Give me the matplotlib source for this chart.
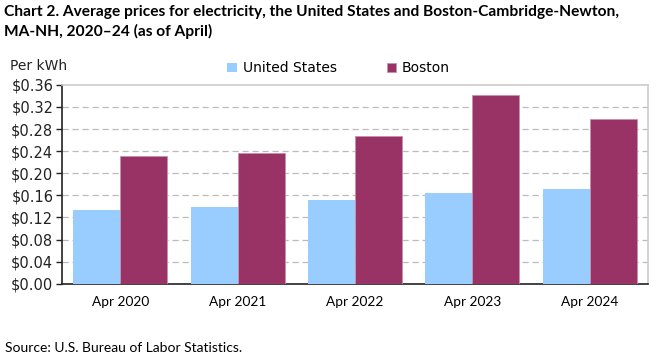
import matplotlib.pyplot as plt
import numpy as np

categories = ["Apr 2020", "Apr 2021", "Apr 2022", "Apr 2023", "Apr 2024"]
us_prices = [0.134, 0.138, 0.152, 0.165, 0.172]
boston_prices = [0.231, 0.237, 0.268, 0.341, 0.298]
y_ticks = [0.00, 0.04, 0.08, 0.12, 0.16, 0.20, 0.24, 0.28, 0.32, 0.36]

us_color = "#99CCFF"
boston_color = "#993366"

fig = plt.figure(figsize=(6.61, 3.61), dpi=100)
ax = fig.add_axes([0.0933, 0.214, 0.8877, 0.551])

x = np.arange(len(categories))
w = 0.4
ax.bar(x - w / 2, us_prices, w, color=us_color, label="United States", zorder=3)
ax.bar(x + w / 2, boston_prices, w, color=boston_color, label="Boston",
       edgecolor="#c890aa", linewidth=0.6, zorder=3)

ax.set_xlim(-0.5, len(categories) - 0.5)
ax.set_ylim(0, 0.36)
ax.set_yticks(y_ticks)
ax.set_yticklabels([f"${v:.2f}" for v in y_ticks], fontsize=10.5, color="#222222")
ax.set_xticks(x)
ax.set_xticklabels(categories, fontfamily="Lato", fontsize=9.8)
ax.tick_params(axis="x", length=0, pad=9)
ax.tick_params(axis="y", length=4, width=1, direction="out", color="#222222", pad=2)

for v in y_ticks[1:-1]:
    ax.axhline(v, color="#bbbbbb", linestyle=(0, (5, 3)), linewidth=0.9, zorder=1)

ax.spines["left"].set_color("#222222")
ax.spines["left"].set_linewidth(1.2)
ax.spines["bottom"].set_color("#222222")
ax.spines["bottom"].set_linewidth(1.2)
ax.spines["top"].set_color("#cccccc")
ax.spines["top"].set_linewidth(1.2)
ax.spines["right"].set_color("#cccccc")
ax.spines["right"].set_linewidth(1.2)

ax.legend(loc="lower center", bbox_to_anchor=(0.472, 1.02), ncol=2, frameon=False,
          fontsize=10, handlelength=0.7, handleheight=0.7, columnspacing=3.6,
          handletextpad=0.4, borderaxespad=0)

fig.text(0.015, 0.805, "Per kWh", fontsize=10, color="#222222")
fig.text(0.006, 0.985,
         "Chart 2. Average prices for electricity, the United States and Boston-Cambridge-Newton,\nMA-NH, 2020\u201324 (as of April)",
         fontfamily="Lato", fontweight="bold", fontsize=11.2, va="top", linespacing=1.4)
fig.text(0.008, 0.025, "Source: U.S. Bureau of Labor Statistics.", fontfamily="Lato", fontsize=10)

fig.savefig("out.png", dpi=100)
